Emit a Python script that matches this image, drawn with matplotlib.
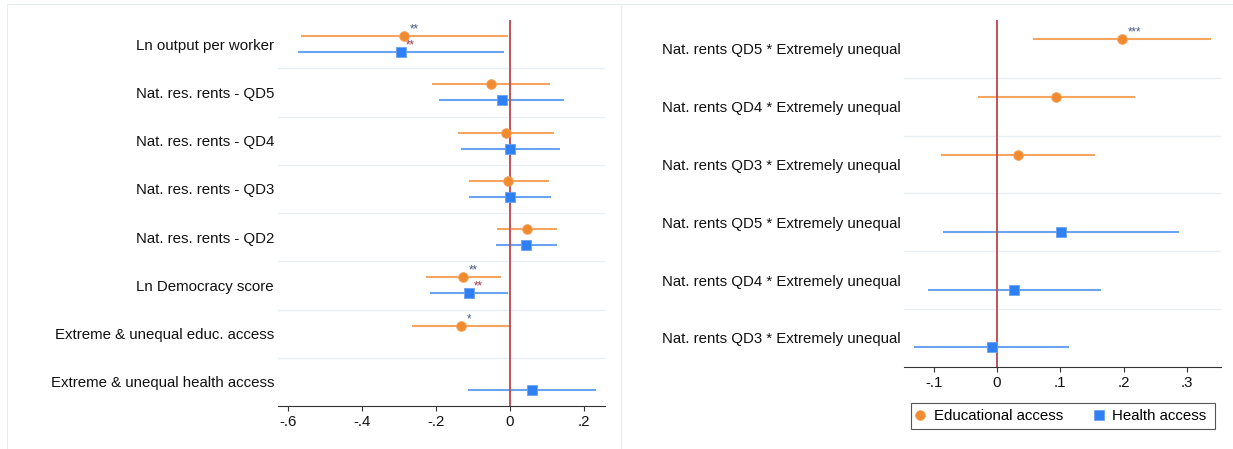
import matplotlib
matplotlib.use("Agg")
import matplotlib.pyplot as plt
import numpy as np
from matplotlib.patches import Rectangle
from matplotlib.lines import Line2D

nan = np.nan

# ---------------- data: left panel ----------------
left_labels = ["Ln output per worker", "Nat. res. rents - QD5", "Nat. res. rents - QD4",
               "Nat. res. rents - QD3", "Nat. res. rents - QD2", "Ln Democracy score",
               "Extreme & unequal educ. access", "Extreme & unequal health access"]
educ_coef = [-0.286, -0.052, -0.011, -0.004, 0.047, -0.126, -0.132, nan]
educ_lo = [-0.566, -0.212, -0.140, -0.111, -0.035, -0.227, -0.264, nan]
educ_hi = [-0.005, 0.108, 0.118, 0.105, 0.128, -0.024, 0.000, nan]
educ_stars = ["**", "", "", "", "", "**", "*", ""]

health_coef = [-0.295, -0.022, 0.001, 0.000, 0.044, -0.111, nan, 0.060]
health_lo = [-0.573, -0.191, -0.132, -0.111, -0.038, -0.217, nan, -0.114]
health_hi = [-0.016, 0.146, 0.134, 0.111, 0.128, -0.005, nan, 0.232]
health_stars = ["**", "", "", "", "", "**", "", ""]

left_xticks = [-0.6, -0.4, -0.2, 0.0, 0.2]
left_xticklabels = ["-.6", "-.4", "-.2", "0", ".2"]

# ---------------- data: right panel ----------------
right_labels = ["Nat. rents QD5 * Extremely unequal", "Nat. rents QD4 * Extremely unequal",
                "Nat. rents QD3 * Extremely unequal", "Nat. rents QD5 * Extremely unequal",
                "Nat. rents QD4 * Extremely unequal", "Nat. rents QD3 * Extremely unequal"]
int_educ_coef = [0.198, 0.094, 0.033, nan, nan, nan]
int_educ_lo = [0.057, -0.030, -0.089, nan, nan, nan]
int_educ_hi = [0.338, 0.218, 0.155, nan, nan, nan]
int_educ_stars = ["***", "", "", "", "", ""]

int_health_coef = [nan, nan, nan, 0.101, 0.027, -0.008]
int_health_lo = [nan, nan, nan, -0.086, -0.109, -0.131]
int_health_hi = [nan, nan, nan, 0.288, 0.164, 0.114]
int_health_stars = ["", "", "", "", "", ""]

right_xticks = [-0.1, 0.0, 0.1, 0.2, 0.3]
right_xticklabels = ["-.1", "0", ".1", ".2", ".3"]

legend_labels = ["Educational access", "Health access"]

# ---------------- style ----------------
plt.rcParams["font.family"] = ["Liberation Sans", "DejaVu Sans"]
FS = 10.8
MS = 7.0
OR_PT, OR_LN = "#f28a30", "#f5a560"
BL_PT, BL_LN = "#2f80f5", "#6aa3f0"
STAR_OR, STAR_BL = "#4a5d7e", "#9b3a4a"
RED = "#c2515b"
GRID = "#e8eff2"
FRAME = "#e9edf0"
AX = "#333333"

W, H = 1233, 449
fig = plt.figure(figsize=(W / 100, H / 100), dpi=100)


def fx(px):
    return px / W


def fy(py):
    return 1 - py / H


for x0, x1 in [(7, 621), (621, 1245)]:
    fig.add_artist(Rectangle((fx(x0), fy(460)), fx(x1) - fx(x0), fy(4) - fy(460),
                             transform=fig.transFigure, fill=False,
                             edgecolor=FRAME, lw=0.8))

axL = fig.add_axes([fx(278), fy(406), fx(605) - fx(278), fy(20) - fy(406)])
axR = fig.add_axes([fx(904.3), fy(366.7), fx(1220.7) - fx(904.3), fy(20) - fy(366.7)])


def draw(ax, labels, series, xlim, xticks, xticklabels):
    n = len(labels)
    for coef, lo, hi, stars, off, mk, pc, lc, sc in series:
        coef = np.asarray(coef, float)
        lo = np.asarray(lo, float)
        hi = np.asarray(hi, float)
        y = np.arange(n) + off
        m = ~np.isnan(coef)
        ax.hlines(y[m], lo[m], hi[m], color=lc, lw=1.5, zorder=2)
        ax.plot(coef[m], y[m], ls="none", marker=mk, ms=MS, mfc=pc, mec=lc,
                mew=0.6, zorder=3)
        for c, yy, s in zip(coef, y, stars):
            if s and not np.isnan(c):
                ax.annotate(s, (c, yy), xytext=(3.8, 2.6), textcoords="offset points",
                            ha="left", va="baseline", fontsize=8.3, color=sc,
                            zorder=4)
    ax.axvline(0, color=RED, lw=1.4, zorder=2.5)
    for k in range(n - 1):
        ax.axhline(k + 0.5, color=GRID, lw=1.0, zorder=0.5)
    ax.set_ylim(n - 0.5, -0.5)
    ax.set_yticks(range(n))
    ax.set_yticklabels(labels, fontsize=FS, color="#111111")
    ax.tick_params(axis="y", length=0, pad=2.8)
    ax.set_xlim(xlim)
    ax.set_xticks(xticks)
    ax.set_xticklabels(xticklabels, fontsize=FS, color="#111111")
    ax.tick_params(axis="x", length=3.6, width=0.8, pad=3, color=AX)
    for sp in ["left", "top", "right"]:
        ax.spines[sp].set_visible(False)
    ax.spines["bottom"].set_color(AX)
    ax.spines["bottom"].set_linewidth(0.8)
    ax.set_facecolor("none")


draw(axL, left_labels,
     [(educ_coef, educ_lo, educ_hi, educ_stars, -1 / 6, "o", OR_PT, OR_LN, STAR_OR),
      (health_coef, health_lo, health_hi, health_stars, 1 / 6, "s", BL_PT, BL_LN, STAR_BL)],
     (-0.627, 0.257), left_xticks, left_xticklabels)

draw(axR, right_labels,
     [(int_educ_coef, int_educ_lo, int_educ_hi, int_educ_stars, -1 / 6, "o", OR_PT, OR_LN, STAR_OR),
      (int_health_coef, int_health_lo, int_health_hi, int_health_stars, 1 / 6, "s", BL_PT, BL_LN, STAR_BL)],
     (-0.1464, 0.3534), right_xticks, right_xticklabels)

handles = [Line2D([], [], ls="none", marker="o", ms=MS, mfc=OR_PT, mec=OR_LN, mew=0.6),
           Line2D([], [], ls="none", marker="s", ms=MS, mfc=BL_PT, mec=BL_LN, mew=0.6)]
fig.legend(handles, legend_labels, loc="center left",
           bbox_to_anchor=(fx(915.5), fy(416.3)), ncol=2, frameon=False,
           borderpad=0, borderaxespad=0, handlelength=0.6, handletextpad=0.6,
           columnspacing=2.1, fontsize=FS, numpoints=1)
fig.add_artist(Rectangle((fx(910.7), fy(429.3)), fx(1215) - fx(910.7), fy(402.7) - fy(429.3),
                         transform=fig.transFigure, fill=False, edgecolor="#555555", lw=0.8))

fig.savefig("out.png", dpi=100)
